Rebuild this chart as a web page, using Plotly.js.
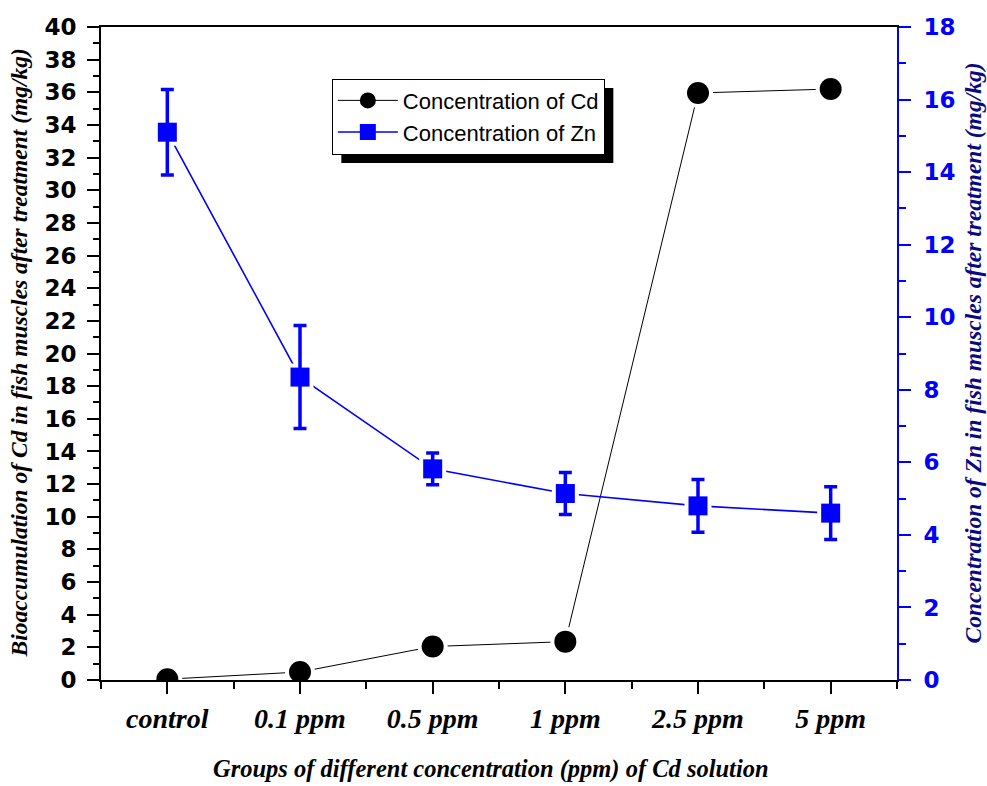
<!DOCTYPE html>
<html>
<head>
<meta charset="utf-8">
<script src="https://cdn.plot.ly/plotly-3.0.1.min.js"></script>
<style>html,body{margin:0;padding:0;background:#fff;}#chart{width:987px;height:786px;}</style>
</head>
<body>
<div id="chart"></div>
<script>
const categories = ['control', '0.1 ppm', '0.5 ppm', '1 ppm', '2.5 ppm', '5 ppm'];
const cdValues = [0.05, 0.49, 2.05, 2.35, 35.96, 36.2];
const znValues = [15.1, 8.35, 5.82, 5.14, 4.80, 4.60];
const znErrors = [1.18, 1.42, 0.44, 0.58, 0.73, 0.73];

const xIdx = categories.map((_, i) => i);
const serifFont = {family: 'Liberation Serif, Times New Roman, serif', style: 'italic', weight: 700};

const traces = [
  {x: xIdx, y: cdValues, type: 'scatter', mode: 'lines+markers', name: 'Concentration of Cd',
   line: {color: '#000', width: 1}, marker: {symbol: 'circle', size: 22, color: '#000'}, hoverinfo: 'skip'},
  {x: xIdx, y: cdValues, type: 'scatter', mode: 'markers', showlegend: false,
   marker: {symbol: 'circle', size: 30, color: '#fff'}, hoverinfo: 'skip'},
  {x: xIdx, y: cdValues, type: 'scatter', mode: 'markers', showlegend: false,
   marker: {symbol: 'circle', size: 22, color: '#000'}},
  {x: xIdx, y: znValues, yaxis: 'y2', type: 'scatter', mode: 'lines+markers', name: 'Concentration of Zn',
   line: {color: '#0000ff', width: 1.6}, marker: {symbol: 'square', size: 19, color: '#0000ff'}, hoverinfo: 'skip'},
  {x: xIdx, y: znValues, yaxis: 'y2', type: 'scatter', mode: 'markers', showlegend: false,
   marker: {symbol: 'square', size: 27, color: '#fff'}, hoverinfo: 'skip'},
  {x: xIdx, y: znValues, yaxis: 'y2', type: 'scatter', mode: 'markers', showlegend: false,
   marker: {symbol: 'square', size: 19, color: '#0000ff'},
   error_y: {type: 'data', array: znErrors, visible: true, color: '#0000ff', thickness: 3.5, width: 6.5}}
];

const layout = {
  width: 987, height: 786,
  margin: {l: 101, r: 90, t: 27, b: 106},
  paper_bgcolor: '#fff', plot_bgcolor: '#fff',
  showlegend: true,
  legend: {
    x: 0.290, y: 0.921, xanchor: 'left', yanchor: 'top',
    bgcolor: '#fff', bordercolor: '#000', borderwidth: 1,
    font: {family: 'Arial, Liberation Sans, sans-serif', size: 22, color: '#000'},
    itemwidth: 60, tracegroupgap: 0
  },
  xaxis: {
    range: [-0.5, 5.5], tickmode: 'array', tickvals: xIdx, ticktext: categories,
    showline: true, linecolor: '#000', linewidth: 2, mirror: true,
    ticks: 'outside', ticklen: 12, tickwidth: 2, tickcolor: '#000',
    minor: {tickmode: 'linear', tick0: 0.5, dtick: 1, ticks: 'outside', ticklen: 7, tickwidth: 2, tickcolor: '#000'},
    showgrid: false, zeroline: false, ticklabelstandoff: 0,
    tickfont: Object.assign({size: 28, color: '#000'}, serifFont)
  },
  yaxis: {
    range: [0, 40], dtick: 2, tick0: 0,
    showline: true, linecolor: '#000', linewidth: 2,
    ticks: 'outside', ticklen: 12, tickwidth: 2, tickcolor: '#000',
    minor: {dtick: 1, ticks: 'outside', ticklen: 6, tickwidth: 2, tickcolor: '#000'},
    showgrid: false, zeroline: false, ticklabelstandoff: 6,
    tickfont: {family: 'DejaVu Sans, sans-serif', size: 23, weight: 700, color: '#000'}
  },
  yaxis2: {
    overlaying: 'y', side: 'right', range: [0, 18], dtick: 2, tick0: 0,
    showline: true, linecolor: '#0000ff', linewidth: 2,
    ticks: 'outside', ticklen: 12, tickwidth: 2, tickcolor: '#0000ff',
    minor: {dtick: 1, ticks: 'outside', ticklen: 7, tickwidth: 2, tickcolor: '#0000ff'},
    showgrid: false, zeroline: false, ticklabelstandoff: 8,
    tickfont: {family: 'DejaVu Sans, sans-serif', size: 23, weight: 700, color: '#0000ff'}
  },
  shapes: [],
  annotations: [
    {text: 'Bioaccumulation of Cd in fish muscles after treatment (mg/kg)', xref: 'paper', yref: 'paper',
     x: -83 / 796, y: 0.5, xanchor: 'center', yanchor: 'middle', textangle: -90, showarrow: false,
     font: Object.assign({size: 23.5, color: '#000'}, serifFont)},
    {text: 'Concentration of Zn in fish muscles after treatment (mg/kg)', xref: 'paper', yref: 'paper',
     x: 1 + 75 / 796, y: 0.5, xanchor: 'center', yanchor: 'middle', textangle: -90, showarrow: false,
     font: Object.assign({size: 23.5, color: '#0a0a80'}, serifFont)},
    {text: 'Groups of different concentration (ppm) of Cd solution', xref: 'paper', yref: 'paper',
     x: 0.49, y: -89 / 653, xanchor: 'center', yanchor: 'middle', showarrow: false, borderpad: 0,
     font: Object.assign({size: 24.5, color: '#000'}, serifFont)}
  ]
};

Plotly.newPlot('chart', traces, layout, {displayModeBar: false, staticPlot: true}).then(function (gd) {
  // drop shadow behind the legend box, sized from the drawn legend
  const bg = gd.querySelector('.legend .bg');
  if (!bg) return;
  const r = bg.getBoundingClientRect();
  const c = gd.getBoundingClientRect();
  const fl = gd._fullLayout;
  const pl = fl.margin.l, pt = fl.margin.t, pw = fl._size.w, ph = fl._size.h;
  const off = 9;
  const toX = px => (px - c.left - pl) / pw;
  const toY = py => 1 - (py - c.top - pt) / ph;
  return Plotly.relayout(gd, {shapes: [{
    type: 'rect', xref: 'paper', yref: 'paper', layer: 'above',
    x0: toX(r.left + off), x1: toX(r.right + off), y0: toY(r.bottom + off), y1: toY(r.top + off),
    fillcolor: '#000', line: {width: 0}
  }]});
});
</script>
</body>
</html>
